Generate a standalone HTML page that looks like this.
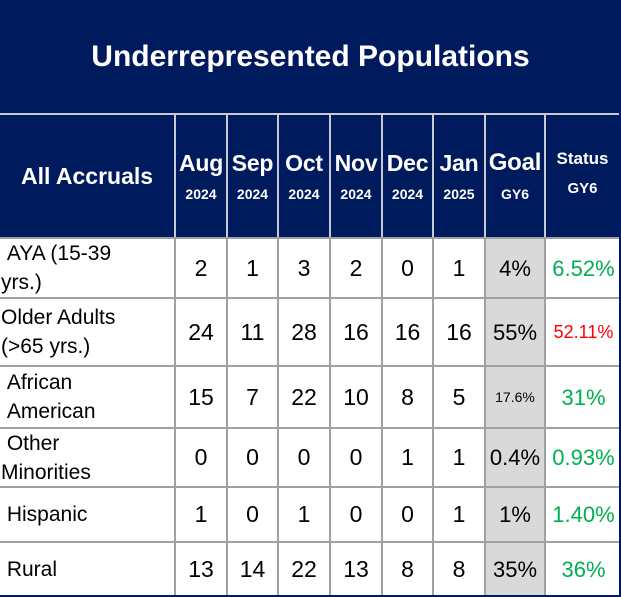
<!DOCTYPE html>
<html><head><style>
body{margin:0;width:621px;height:597px;overflow:hidden;background:#fff;font-family:"Liberation Sans",Arial,sans-serif;}
#w{position:relative;width:621px;height:597px;background:#001a5e;}
.c{position:absolute;box-sizing:border-box;display:flex;align-items:center;justify-content:center;text-align:center;color:#000;font-size:22px;line-height:29px;}
.h{background:#001a5e;color:#fff;font-weight:bold;flex-direction:column;border-left:2px solid #c8c8d0;}
.d{background:#fff;border-left:2px solid #a0a0a0;border-top:2px solid #a0a0a0;}
.g{background:#d9d9d9;}
.l{justify-content:flex-start;text-align:left;}
.gr{color:#00b050}.rd{color:#ff0000}
</style></head><body><div id="w">
<div class="c" style="left:0;top:0;width:621px;height:113px;color:#fff;font-weight:bold;font-size:30px;">Underrepresented Populations</div>
</div>
<script>
const cols=[0,174,226,277,329,381,432,484,544,619];
const rows=[237,297,365,427,486,541,595];
const w=document.getElementById('w');
function cell(ci,top,h,html,cls,style){const d=document.createElement('div');d.className='c '+cls;d.style.left=cols[ci]+'px';d.style.top=top+'px';d.style.width=(cols[ci+1]-cols[ci])+'px';d.style.height=h+'px';if(style)d.style.cssText+=style;d.innerHTML=html;w.appendChild(d);}
const hdr=[['All Accruals',''],['Aug','2024'],['Sep','2024'],['Oct','2024'],['Nov','2024'],['Dec','2024'],['Jan','2025'],['Goal','GY6'],['Status','GY6']];
hdr.forEach((x,i)=>{
 let html;
 if(!x[1]) html=`<div style="font-size:23px">${x[0]}</div>`;
 else if(i==8) html=`<div style="font-size:17px;line-height:22px;margin-top:-4px">${x[0]}</div><div style="font-size:15px;line-height:22px;margin-top:8px">${x[1]}</div>`;
 else html=`<div style="font-size:${i==7?24:23}px;line-height:28px;letter-spacing:-0.2px;white-space:nowrap">${x[0]}</div><div style="font-size:14px;line-height:18px;margin-top:8px">${x[1]}</div>`;
 cell(i,113,124,html,'h',(i==0?'border-left:none;':'')+'border-top:2px solid #c8c8d0;');
});
const data=[
['&nbsp;AYA (15-39<br>yrs.)',2,1,3,2,0,1,'4%','<span class="gr">6.52%</span>'],
['Older Adults<br>(&gt;65 yrs.)',24,11,28,16,16,16,'55%','<span class="rd" style="font-size:18px">52.11%</span>'],
['&nbsp;African<br>&nbsp;American',15,7,22,10,8,5,'<span style="font-size:14px">17.6%</span>','<span class="gr">31%</span>'],
['&nbsp;Other<br>Minorities',0,0,0,0,1,1,'0.4%','<span class="gr">0.93%</span>'],
['&nbsp;Hispanic',1,0,1,0,0,1,'1%','<span class="gr">1.40%</span>'],
['&nbsp;Rural',13,14,22,13,8,8,'35%','<span class="gr">36%</span>']];
data.forEach((r,ri)=>{
 r.forEach((v,ci)=>{
  cell(ci,rows[ri],rows[ri+1]-rows[ri],v,'d'+(ci==0?' l':'')+(ci==7?' g':''),(ci==0?'border-left:none;padding-left:1px;font-size:21px;':'')+(ci>0&&ci<7?'font-size:23px;':'')+(ci==8?'font-size:22px;padding-left:2px;':''));
 });
});
</script>
</body></html>
